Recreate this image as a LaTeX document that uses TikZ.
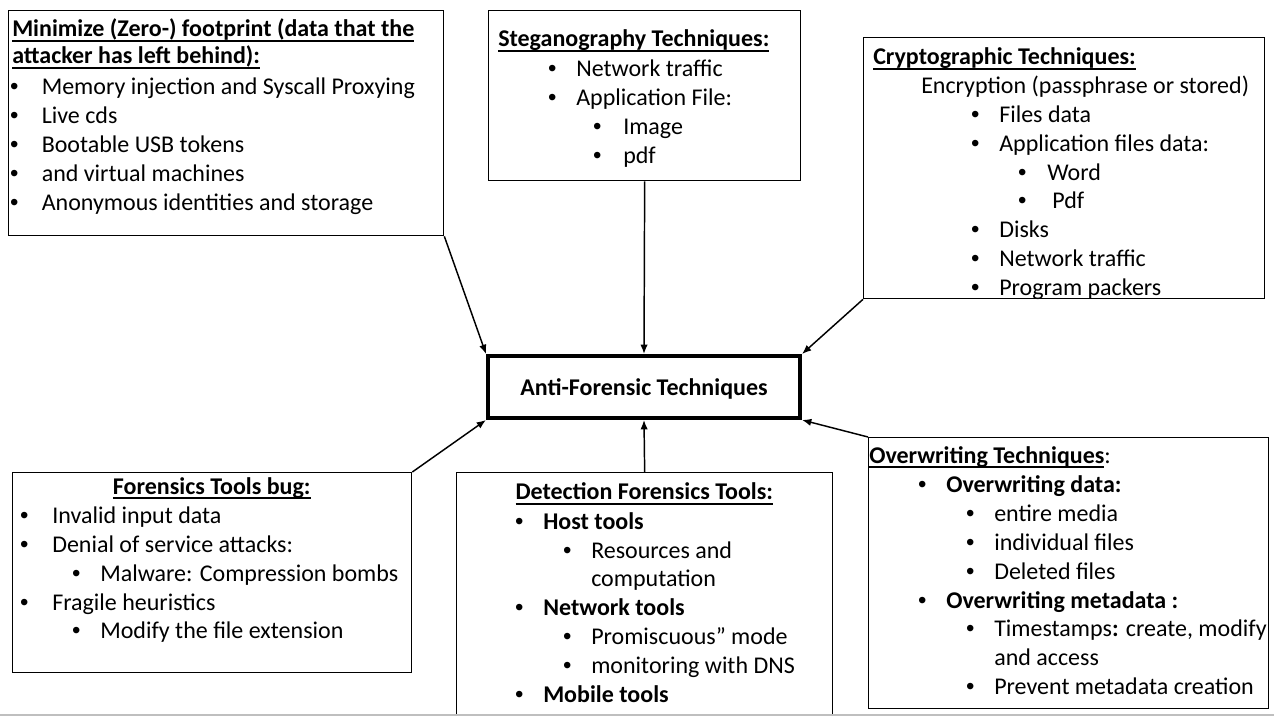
\documentclass[tikz,border=0pt]{standalone}
\usepackage{fontspec}
\setmainfont{Carlito}
\newfontfamily\bulfont{Liberation Sans}
\usetikzlibrary{arrows.meta}
\newlength{\px}\setlength{\px}{0.75pt}
\newcommand{\bitem}[3]{\hbox{\hskip\dimexpr#1\px-5\px\relax\hbox to 10\px{\hss{\bulfont •}\hss}\hskip\dimexpr#2\px-#1\px-5\px\relax#3}}
\newcommand{\tline}[2]{\hbox{\hskip#1\px\relax#2}}
\newcommand{\ctitle}[2]{\hbox to #1\px{\hss#2\hss}}
\newcommand{\ulin}[1]{\setbox0=\hbox{#1}\rlap{\vrule width\wd0 height-2.6pt depth4.1pt}\box0}
\newcommand{\blk}[1]{\vtop{\baselineskip=21.6pt\lineskiplimit=-30pt\lineskip=0pt\relax#1}}

\begin{document}
\begin{tikzpicture}[x=0.75pt,y=-0.75pt,
	  box/.style 2 args={draw,line width=1pt,inner sep=0pt,anchor=north west,
	    minimum width=#1*0.75pt,minimum height=#2*0.75pt},
	  core/.style={draw,line width=3pt,inner sep=0pt,minimum width=234pt,minimum height=46.5pt,
	    font=\fontsize{18}{21.6}\selectfont\bfseries},
	  arr/.style={-{Latex[length=7pt,width=5.5pt]},line width=1.1pt}]
	  \tikzstyle{txt} = [inner sep=0pt,anchor=base west,font=\fontsize{18}{21.6}\selectfont]
	  \useasboundingbox (0,0) rectangle (1274,716);
	  \node (core) [core] at (644,387) {\raisebox{-6.75pt}[0pt][0pt]{Anti-Forensic Techniques}};
	  \node (foot) [box={435}{225}] at (8,10) {};
	  \node (footT) [txt] at (8,37) {\blk{%
	    \tline{4}{\ulin{\textbf{Minimize (Zero-) footprint (data that the}}}\vskip-1.35pt
	    \tline{4}{\ulin{\textbf{attacker has left behind):}}}\vskip1.6pt
	    \bitem{6}{33.5}{Memory injection and Syscall Proxying}
	    \bitem{6}{33.5}{Live cds}
	    \bitem{6}{33.5}{Bootable USB tokens}
	    \bitem{6}{33.5}{and virtual machines}
	    \bitem{6}{33.5}{Anonymous identities and storage}}};
	  \node (steg) [box={312}{170}] at (488,10) {};
	  \node (stegT) [txt] at (488,46.5) {\blk{%
	    \tline{10}{\ulin{\textbf{Steganography Techniques:}}}\vskip1pt
	    \bitem{64}{88}{Network traffic}
	    \bitem{64}{88}{Application File:}
	    \bitem{109}{135}{Image}
	    \bitem{109}{135}{pdf}}};
	  \node (crypt) [box={401}{261}] at (863,37) {};
	  \node (cryptT) [txt] at (863,65) {\blk{%
	    \tline{10}{\ulin{\textbf{Cryptographic Techniques:}}}
	    \tline{58}{Encryption (passphrase or stored)}
	    \bitem{112}{136}{Files data}
	    \bitem{112}{136}{Application files data:}
	    \bitem{159}{184}{Word}
	    \bitem{159}{189}{Pdf}
	    \bitem{112}{136}{Disks}
	    \bitem{112}{136}{Network traffic}
	    \bitem{112}{136}{Program packers}}};
	  \node (bug) [box={399}{200}] at (12,472) {};
	  \node (bugT) [txt] at (12,494) {\blk{%
	    \ctitle{399}{\ulin{\textbf{Forensics Tools bug:}}}\vskip0.6pt
	    \bitem{12}{40}{Invalid input data}
	    \bitem{12}{40}{Denial of service attacks:}
	    \bitem{64}{88}{Malware: Compression bombs}
	    \bitem{12}{40}{Fragile heuristics}
	    \bitem{64}{88}{Modify the file extension}}};
	  \node (detect) [box={376}{242}] at (456,472) {};
	  \node (detectT) [txt] at (456,499.5) {\blk{%
	    \ctitle{376}{\ulin{\textbf{Detection Forensics Tools:}}}\vskip0.75pt
	    \bitem{63}{87}{\textbf{Host tools}}
	    \bitem{111}{135}{Resources and}
	    \tline{135}{computation}
	    \bitem{63}{87}{\textbf{Network tools}}
	    \bitem{111}{135}{Promiscuous” mode}
	    \bitem{111}{135}{monitoring with DNS}
	    \bitem{63}{87}{\textbf{Mobile tools}}}};
	  \node (over) [box={400}{271}] at (868,437) {};
	  \node (overT) [txt] at (868,463) {\blk{%
	    \tline{1}{\ulin{\textbf{Overwriting Techniques}}:}\vskip0.75pt
	    \bitem{54}{78}{\textbf{Overwriting data:}}
	    \bitem{102}{126}{entire media}
	    \bitem{102}{126}{individual files}
	    \bitem{102}{126}{Deleted files}
	    \bitem{54}{78}{\textbf{Overwriting metadata :}}
	    \bitem{102}{126}{Timestamps\textbf{:} create, modify}
	    \tline{126}{and access}
	    \bitem{102}{126}{Prevent metadata creation}}};
	  \draw[arr] (foot.south east) -- (core.north west);
	  \draw[arr] (steg.south) -- (core.north);
	  \draw[arr] (crypt.south west) -- (core.north east);
	  \draw[arr] (bug.north east) -- (core.south west);
	  \draw[arr] (detect.north) -- (core.south);
	  \draw[arr] (over.north west) -- (core.south east);
	  \draw[black!25,line width=1.2pt] (0,715) -- (1274,715);
\end{tikzpicture}
\end{document}
